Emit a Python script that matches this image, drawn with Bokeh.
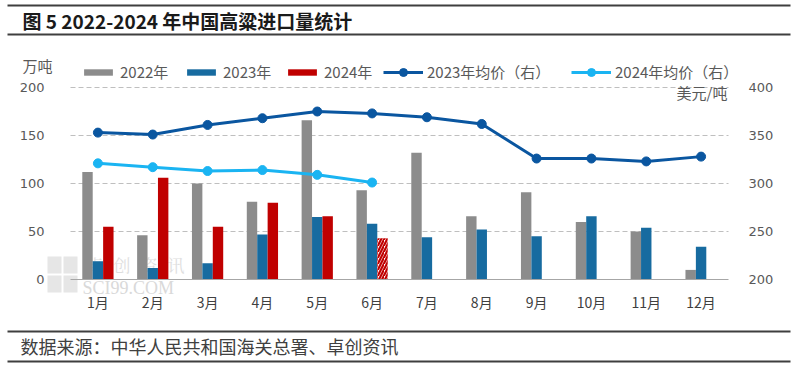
from bokeh.plotting import figure
from bokeh.models import (Range1d, LinearAxis, FixedTicker, Label, Legend, LegendItem,
                          BoxAnnotation, ColumnDataSource, Grid)
from bokeh.transform import dodge
from bokeh.embed import file_html
from bokeh.resources import INLINE

# ---------------- data ----------------
months = ["1月", "2月", "3月", "4月", "5月", "6月", "7月", "8月", "9月", "10月", "11月", "12月"]
month_pos = list(range(1, 13))
imp_2022 = [112, 46, 100, 81, 166, 93, 132, 66, 91, 60, 50, 10]
imp_2023 = [19, 12, 17, 47, 65, 58, 44, 52, 45, 66, 54, 34]
imp_2024 = [55, 106, 55, 80, 66]
imp_2024_jun = [43]
price_2023 = [353, 351, 361, 368, 375, 373, 369, 362, 326, 326, 323, 328]
price_2024 = [321, 317, 313, 314, 309, 301]
left_ticks = [0, 50, 100, 150, 200]
grid_ticks = [50, 100, 150, 200]
right_ticks = [200, 250, 300, 350, 400]

GRAY = "#8C8C8C"
BLUE = "#176BA0"
RED = "#C00000"
L23 = "#0A56A0"
L24 = "#1AB4F2"
TXT = "#595959"
CJK = "Noto Sans CJK SC"

W_PX, H_PX = 800, 367
# plot area in picture pixels: x 70..728 (months 0.5..12.5), y 279 (0) .. 87 (200)
PX_L, PX_R, PX_B, PX_T = 70, 728, 279, 87
kx = (PX_R - PX_L) / 12.0
ky = (PX_B - PX_T) / 200.0
x0 = 0.5 - PX_L / kx
x1 = 12.5 + (W_PX - PX_R) / kx
y0 = 0 - (H_PX - PX_B) / ky
y1 = 200 + PX_T / ky

def sx(px):
    return px
def sy(py):
    return H_PX - py

p = figure(width=W_PX, height=H_PX, output_backend="svg", toolbar_location=None,
           x_range=Range1d(x0, x1), y_range=Range1d(y0, y1),
           min_border=0, x_axis_type=None, y_axis_type=None)
p.outline_line_color = None
p.background_fill_color = "white"
p.border_fill_color = "white"
p.extra_y_ranges = {"price": Range1d(200 + y0, 200 + y1)}
p.xgrid.visible = False
p.ygrid.visible = False

# grid lines limited to plot area
g = Grid(dimension=1, ticker=FixedTicker(ticks=grid_ticks), grid_line_color="#BFBFBF",
         grid_line_dash="5 3", grid_line_width=1)
if "cross_bounds" in Grid.properties():
    g.cross_bounds = (0.5, 12.5)
    p.add_layout(g)
else:
    p.segment(x0=[0.5] * len(grid_ticks), x1=[12.5] * len(grid_ticks), y0=grid_ticks, y1=grid_ticks,
              line_color="#BFBFBF", line_dash="5 3", line_width=1)

# axes (fixed inside the canvas)
la = LinearAxis(ticker=FixedTicker(ticks=left_ticks), fixed_location=0.5, bounds=(0, 200))
la.axis_line_color = None
la.major_tick_line_color = None
la.minor_tick_line_color = None
la.major_label_standoff = 20
la.major_label_text_font = "DejaVu Sans"
la.major_label_text_font_size = "13px"
la.major_label_text_color = TXT
p.add_layout(la, "left")

ra = LinearAxis(y_range_name="price", ticker=FixedTicker(ticks=right_ticks), fixed_location=12.5,
                bounds=(200, 400))
ra.axis_line_color = None
ra.major_tick_line_color = None
ra.minor_tick_line_color = None
ra.major_label_standoff = 14
ra.major_label_text_font = "DejaVu Sans"
ra.major_label_text_font_size = "13px"
ra.major_label_text_color = TXT
p.add_layout(ra, "right")

xa = LinearAxis(ticker=FixedTicker(ticks=month_pos), fixed_location=0, bounds=(0.5, 12.5),
                major_label_overrides={k: m for k, m in zip(month_pos, months)})
xa.axis_line_color = "#A6A6A6"
xa.axis_line_width = 1
xa.major_tick_line_color = None
xa.minor_tick_line_color = None
xa.major_label_standoff = 6
xa.major_label_text_font = CJK
xa.major_label_text_font_size = "14px"
xa.major_label_text_color = "#404040"
p.add_layout(xa, "below")

# watermark (underlay)
for ch, px in zip(["卓", "创", "资", "讯"], [86, 113, 140, 167]):
    p.add_layout(Label(x=sx(px), y=sy(264), x_units="screen", y_units="screen", text=ch,
                       text_font="Noto Serif CJK SC", text_font_size="17px", text_color="#DEDEDE",
                       text_baseline="middle", level="underlay"))
p.add_layout(Label(x=sx(82), y=sy(287), x_units="screen", y_units="screen", text="SCI99.COM",
                   text_font="Liberation Serif", text_font_size="18px", text_color="#D9D9D9",
                   text_baseline="middle", level="underlay"))
for (l, t) in [(47, 256), (63, 256), (47, 275), (63, 275)]:
    p.add_layout(BoxAnnotation(left=sx(l), right=sx(l + 14), top=sy(t), bottom=sy(t + 17),
                               left_units="screen", right_units="screen",
                               top_units="screen", bottom_units="screen",
                               fill_color="#E6E6E6", fill_alpha=1, line_color=None, level="underlay"))

# bars
s22 = ColumnDataSource(dict(x=month_pos, v=imp_2022))
s23 = ColumnDataSource(dict(x=month_pos, v=imp_2023))
s24 = ColumnDataSource(dict(x=month_pos[:len(imp_2024)], v=imp_2024))
s24j = ColumnDataSource(dict(x=month_pos[len(imp_2024):len(imp_2024) + 1], v=imp_2024_jun))
W = 0.19
r22 = p.vbar(x=dodge("x", -W), top="v", width=W, source=s22, fill_color=GRAY, line_color=None)
r23 = p.vbar(x=dodge("x", 0), top="v", width=W, source=s23, fill_color=BLUE, line_color=None)
r24 = p.vbar(x=dodge("x", W), top="v", width=W, source=s24, fill_color=RED, line_color=None)
p.vbar(x=dodge("x", W), top="v", width=W, source=s24j,
       fill_color="white", line_color=None, hatch_pattern="/", hatch_color=RED,
       hatch_weight=2.2, hatch_scale=6)

# lines
pos24 = month_pos[:len(price_2024)]
l23 = p.line(month_pos, price_2023, y_range_name="price", line_color=L23, line_width=3)
m23 = p.scatter(month_pos, price_2023, y_range_name="price", size=9, fill_color=L23, line_color=L23)
l24 = p.line(pos24, price_2024, y_range_name="price", line_color=L24, line_width=3)
m24 = p.scatter(pos24, price_2024, y_range_name="price", size=9, fill_color=L24, line_color=L24)

# legends
def one_legend(label, rends, px, gw, gh):
    leg = Legend(items=[LegendItem(label=label, renderers=rends)], location=(sx(px), sy(82)),
                 orientation="horizontal", glyph_width=gw, glyph_height=gh, label_standoff=4,
                 padding=0, margin=0, border_line_color=None, background_fill_alpha=0,
                 label_text_font=CJK, label_text_font_size="15px", label_text_color=TXT,
                 label_height=20)
    p.add_layout(leg, "center")

one_legend("2022年", [r22], 80, 36, 8)
one_legend("2023年", [r23], 183, 36, 8)
one_legend("2024年", [r24], 284, 36, 8)
one_legend("2023年均价（右）", [l23, m23], 383, 40, 20)
one_legend("2024年均价（右）", [l24, m24], 571, 40, 20)

# unit labels
p.add_layout(Label(x=sx(22), y=sy(65), x_units="screen", y_units="screen", text="万吨",
                   text_font=CJK, text_font_size="15px", text_color=TXT, text_baseline="middle"))
p.add_layout(Label(x=sx(727), y=sy(92), x_units="screen", y_units="screen", text="美元/吨",
                   text_font=CJK, text_font_size="15px", text_color=TXT, text_baseline="middle",
                   text_align="right"))

# title & source with rules
def rule(py):
    p.add_layout(BoxAnnotation(left=sx(7), right=sx(790), top=sy(py), bottom=sy(py + 2),
                               left_units="screen", right_units="screen",
                               top_units="screen", bottom_units="screen",
                               fill_color="#3F3F3F", fill_alpha=1, line_color=None))
rule(4)
rule(33)
rule(330)
rule(360)
p.add_layout(Label(x=sx(22), y=sy(20), x_units="screen", y_units="screen",
                   text="图 5 2022-2024 年中国高粱进口量统计",
                   text_font=CJK, text_font_size="19px", text_font_style="bold",
                   text_color="#1A1A1A", text_baseline="middle"))
p.add_layout(Label(x=sx(20), y=sy(345), x_units="screen", y_units="screen",
                   text="数据来源：中华人民共和国海关总署、卓创资讯",
                   text_font=CJK, text_font_size="18px",
                   text_color="#404040", text_baseline="middle"))

open("out.html", "w").write(file_html(p, INLINE))
